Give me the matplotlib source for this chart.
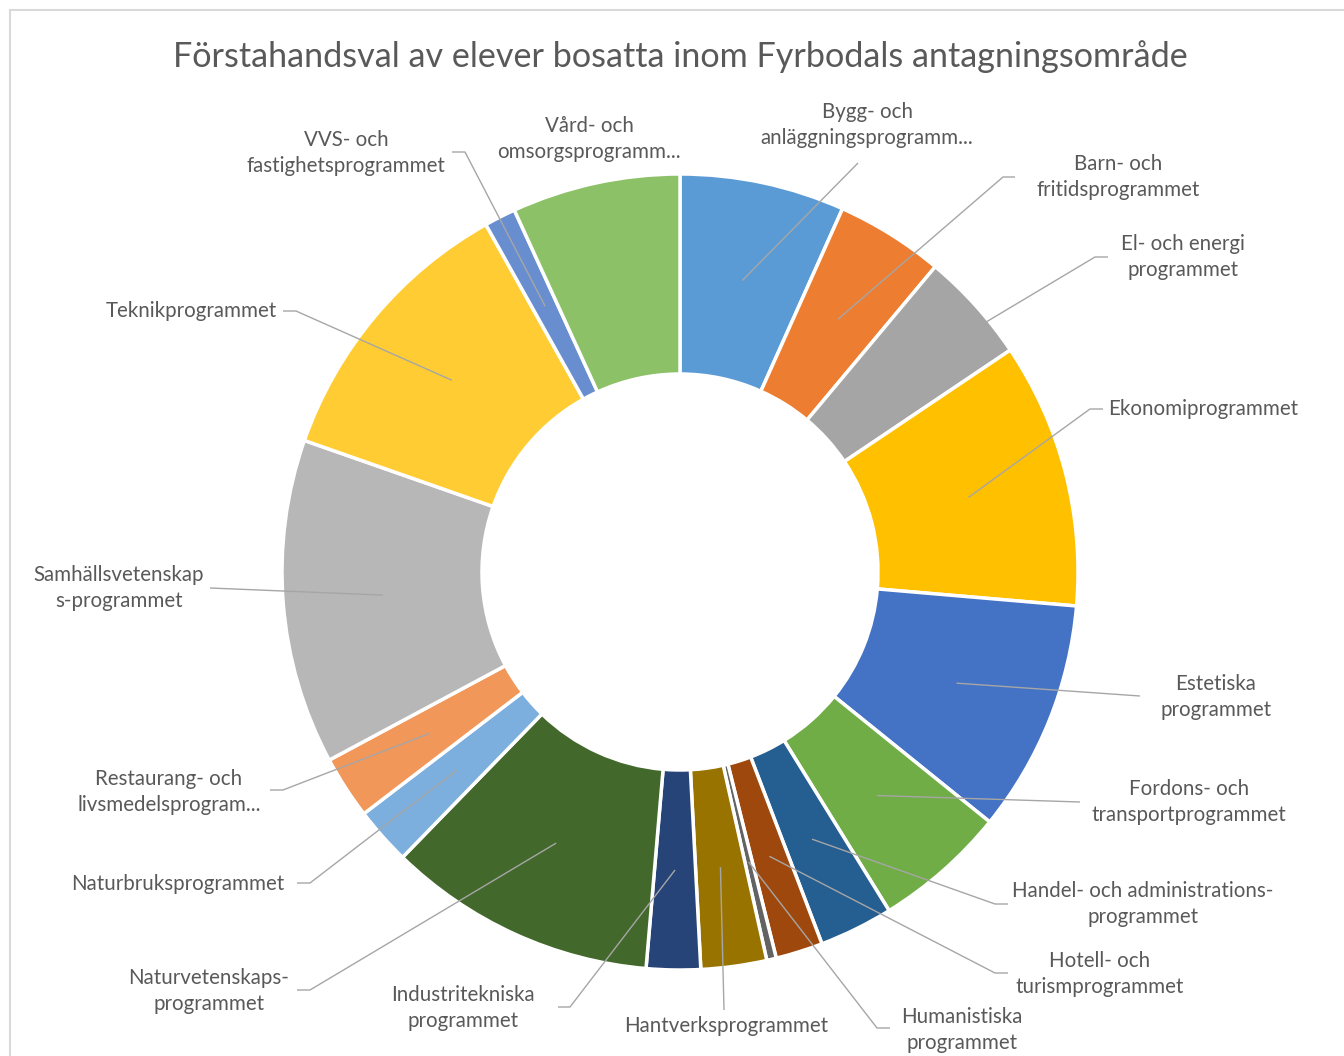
import matplotlib
matplotlib.use("Agg")
import matplotlib.pyplot as plt
from matplotlib.patches import Rectangle
import numpy as np

# ---- data (slice sizes, in degrees of the ring) ----
programs = [
    "Bygg- och\nanläggningsprogramm...",
    "Barn- och\nfritidsprogrammet",
    "El- och energi\nprogrammet",
    "Ekonomiprogrammet",
    "Estetiska\nprogrammet",
    "Fordons- och\ntransportprogrammet",
    "Handel- och administrations-\nprogrammet",
    "Hotell- och\nturismprogrammet",
    "Humanistiska\nprogrammet",
    "Hantverksprogrammet",
    "Industritekniska\nprogrammet",
    "Naturvetenskaps-\nprogrammet",
    "Naturbruksprogrammet",
    "Restaurang- och\nlivsmedelsprogram...",
    "Samhällsvetenskap\ns-programmet",
    "Teknikprogrammet",
    "VVS- och\nfastighetsprogrammet",
    "Vård- och\nomsorgsprogramm...",
]
values = [24.1, 15.8, 16.2, 38.8, 34.0, 19.4, 10.8, 6.9, 1.4, 9.6,
          7.9, 39.3, 8.4, 9.2, 47.5, 41.5, 4.6, 24.6]
colors = ["#5B9BD5", "#ED7D31", "#A5A5A5", "#FFC000", "#4472C4", "#70AD47",
          "#255E91", "#9E480E", "#636363", "#997300", "#264478", "#43682B",
          "#7CAFDD", "#F1975A", "#B7B7B7", "#FFCD33", "#698ED0", "#8CC168"]
title = "Förstahandsval av elever bosatta inom Fyrbodals antagningsområde"

# ---- layout (pixel coordinates, y measured from top) ----
W, H = 1344, 1056
CX, CY = 680, 572
R_OUT, RING_W = 398, 200

# label text centre, elbow point, end of leader (None = no leader)
label_layout = [
    ((867, 125), None, (858, 163)),
    ((1118, 177), (1003, 177), (1015, 177)),
    ((1183, 257), (1095, 257), (1108, 257)),
    ((1203, 409), (1090, 409), (1103, 409)),
    ((1216, 697), None, (1140, 696)),
    ((1189, 802), None, (1080, 802)),
    ((1143, 904), (995, 904), (1008, 904)),
    ((1100, 974), (995, 973), (1008, 973)),
    ((962, 1030), (877, 1028), (890, 1028)),
    ((726, 1026), None, (724, 1010)),
    ((463, 1008), (570, 1007), (558, 1007)),
    ((209, 991), (310, 990), (297, 990)),
    ((178, 884), (310, 883), (297, 883)),
    ((169, 792), (283, 790), (270, 790)),
    ((119, 588), None, (210, 588)),
    ((191, 311), (296, 311), (283, 311)),
    ((346, 153), (465, 152), (452, 152)),
    ((589, 139), None, None),
]

FONT = ["Lato", "DejaVu Sans"]
TXT = "#595959"
LINE = "#A6A6A6"

fig = plt.figure(figsize=(W / 100, H / 100), dpi=100)
ax = fig.add_axes([0, 0, 1, 1])
ax.set_xlim(0, W)
ax.set_ylim(0, H)
ax.axis("off")

def P(x, y):
    return (x, H - y)

wedges, _ = ax.pie(values, colors=colors, startangle=90, counterclock=False,
                   center=P(CX, CY), radius=R_OUT,
                   wedgeprops=dict(width=RING_W, edgecolor="white", linewidth=2.5))
ax.set_xlim(0, W)
ax.set_ylim(0, H)
ax.set_aspect("equal")

# outer frame of the chart area
ax.add_patch(Rectangle(P(10, 1100), 1400, 1090, fill=False, edgecolor="#D9D9D9",
                       linewidth=1.5, clip_on=True))

ax.text(CX, H - 57, title, ha="center", va="center", fontsize=24.6,
        color=TXT, family=FONT)

total = float(sum(values))
cum = 0.0
r_anchor = R_OUT - RING_W / 2
for name, v, w, (tpos, elbow, end) in zip(programs, values, wedges, label_layout):
    mid = (cum + v / 2) / total * 360.0
    cum += v
    th = np.deg2rad(90 - mid)
    ax_x = CX + r_anchor * np.cos(th)
    ax_y = CY - r_anchor * np.sin(th)
    if end is not None:
        pts = [(ax_x, ax_y)]
        if elbow is not None:
            pts.append(elbow)
        pts.append(end)
        xs = [p[0] for p in pts]
        ys = [H - p[1] for p in pts]
        ax.plot(xs, ys, color=LINE, linewidth=1.0, solid_capstyle="butt")
    ax.text(tpos[0], H - tpos[1], name, ha="center", va="center",
            fontsize=14.8, color=TXT, family=FONT, linespacing=1.38,
            multialignment="center")

fig.savefig("out.png", dpi=100, facecolor="white")
